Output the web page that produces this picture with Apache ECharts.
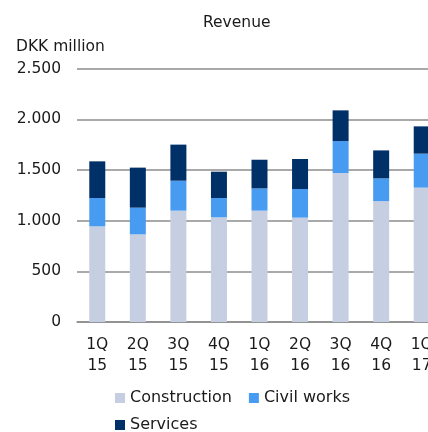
<!DOCTYPE html>
<html>
<head>
<meta charset="utf-8">
<script src="https://cdn.jsdelivr.net/npm/echarts@6/dist/echarts.min.js"></script>
<style>
  html, body { margin: 0; padding: 0; background: #fff; }
  #chart { width: 428px; height: 432px; }
</style>
</head>
<body>
<div id="chart"></div>
<script>
// 季度
const quarters = ['1Q\n15', '2Q\n15', '3Q\n15', '4Q\n15', '1Q\n16', '2Q\n16', '3Q\n16', '4Q\n16', '1Q\n17']
const construction = [944, 865, 1099, 1033, 1099, 1030, 1470, 1193, 1326]
const civilWorks = [279, 263, 295, 190, 219, 282, 315, 224, 335]
const services = [362, 395, 356, 260, 283, 296, 303, 276, 269]

const font = 'DejaVu Sans, Verdana, sans-serif'
const textColor = '#1a1a1a'
const gridColor = '#8c8c8c'

let myChart = echarts.init(document.getElementById('chart'))
let legendText = { fontFamily: font, fontSize: 16, color: textColor }

let options = {
  animation: false,
  title: [
    { text: 'Revenue', left: 203, top: 15, padding: 0,
      textStyle: { fontFamily: font, fontSize: 15.5, fontWeight: 'normal', color: textColor } },
    { text: 'DKK million', left: 11, top: 34,
      textStyle: { fontFamily: font, fontSize: 15.5, fontWeight: 'normal', color: textColor } }
  ],
  legend: [
    { data: ['Construction', 'Civil works'], left: 115, top: 390, padding: 0, itemWidth: 10, itemHeight: 10,
      itemGap: 17, icon: 'rect', textStyle: legendText },
    { data: ['Services'], left: 115, top: 417, padding: 0, itemWidth: 10, itemHeight: 10,
      icon: 'rect', textStyle: legendText }
  ],
  grid: { left: 77, top: 68.6, width: 365, bottom: 110, outerBoundsMode: 'none', containLabel: false },
  xAxis: {
    type: 'category',
    data: quarters,
    axisLine: { lineStyle: { color: gridColor, width: 1.5 } },
    axisTick: { show: false },
    axisLabel: { fontFamily: font, fontSize: 15.5, color: textColor, lineHeight: 21, margin: 12, interval: 0 }
  },
  yAxis: {
    type: 'value',
    min: 0,
    max: 2500,
    interval: 500,
    axisLine: { show: false },
    axisTick: { show: false },
    splitLine: { lineStyle: { color: gridColor, width: 1.5 } },
    axisLabel: {
      fontFamily: font, fontSize: 15.5, color: textColor, margin: 16,
      formatter: v => String(v).replace(/\B(?=(\d{3})+(?!\d))/g, '.')
    }
  },
  series: [
    { name: 'Construction', type: 'bar', stack: 'rev', barWidth: 16, data: construction,
      itemStyle: { color: '#c5cfe1' } },
    { name: 'Civil works', type: 'bar', stack: 'rev', barWidth: 16, data: civilWorks,
      itemStyle: { color: '#479cf2' } },
    { name: 'Services', type: 'bar', stack: 'rev', barWidth: 16, data: services,
      itemStyle: { color: '#003068' } }
  ]
}
myChart.setOption(options)
</script>
</body>
</html>
